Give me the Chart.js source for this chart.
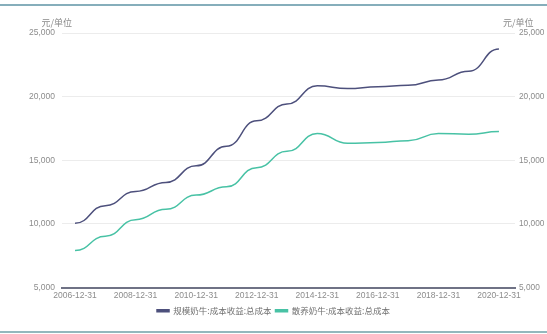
<!DOCTYPE html>
<html>
<head>
<meta charset="utf-8">
<script src="https://cdn.jsdelivr.net/npm/chart.js@4/dist/chart.umd.min.js"></script>
<style>
  html, body { margin: 0; padding: 0; background: #fff; }
  #wrap { position: relative; width: 547px; height: 334px; overflow: hidden; }
  #topRule { position: absolute; left: 0; top: 4px; width: 547px; height: 2px; background: #86aebb; }
  #bottomRule { position: absolute; left: 0; top: 331px; width: 547px; height: 2px; background: #93b8bd; }
  canvas { position: absolute; left: 0; top: 0; }
</style>
</head>
<body>
<div id="wrap">
  <div id="topRule"></div>
  <canvas id="c" width="547" height="334"></canvas>
  <div id="bottomRule"></div>
</div>
<script>
// Year-end dates (12-31) of each observation
const years = [2006, 2007, 2008, 2009, 2010, 2011, 2012, 2013, 2014, 2015, 2016, 2017, 2018, 2019, 2020];
// 规模奶牛:成本收益:总成本 (元/单位)
const scaleDairy = [10050, 11430, 12550, 13260, 14560, 16100, 18100, 19420, 20860, 20630, 20780, 20890, 21300, 21990, 23750];
// 散养奶牛:成本收益:总成本 (元/单位)
const freeDairy = [7900, 9020, 10330, 11150, 12260, 12910, 14420, 15700, 17100, 16330, 16400, 16540, 17100, 17050, 17250];
// X-axis tick years and Y-axis tick values
const tickYears = [2006, 2008, 2010, 2012, 2014, 2016, 2018, 2020];
const yTicks = [5000, 10000, 15000, 20000, 25000];
const seriesNames = ['规模奶牛:成本收益:总成本', '散养奶牛:成本收益:总成本'];
const unitLabel = '元/单位';

const colors = ['#4d507c', '#48c2a5'];
const CJK = '"Noto Sans CJK SC", sans-serif';
const NUM = '"Liberation Sans", Arial, sans-serif';

const toPoints = arr => arr.map((v, i) => ({ x: years[i], y: v }));

// Smooth "bump" curve: horizontal tangents at each observation
const bumpCurve = {
  id: 'bumpCurve',
  beforeDatasetDraw(chart, args) {
    const meta = args.meta;
    const line = meta.dataset;
    if (!line) return;
    line.updateControlPoints(chart.chartArea, 'x');
    const pts = meta.data;
    for (let i = 0; i < pts.length; i++) {
      const p = pts[i];
      const prev = pts[i - 1] || p;
      const next = pts[i + 1] || p;
      p.cp1x = p.x - (p.x - prev.x) / 2;
      p.cp1y = p.y;
      p.cp2x = p.x + (next.x - p.x) / 2;
      p.cp2y = p.y;
    }
  }
};

// Unit captions above both value axes
const unitCaptions = {
  id: 'unitCaptions',
  afterDraw(chart) {
    const ctx = chart.ctx;
    const area = chart.chartArea;
    ctx.save();
    ctx.font = '9px ' + CJK;
    ctx.fillStyle = '#8a8a8a';
    ctx.textBaseline = 'middle';
    ctx.textAlign = 'right';
    ctx.fillText(unitLabel, area.left + 10, area.top - 10);
    ctx.textAlign = 'left';
    ctx.fillText(unitLabel, area.right - 12, area.top - 10);
    ctx.restore();
  }
};

const tickFont = { size: 8.5, family: NUM };

const yScaleBase = {
  min: 5000,
  max: 25000,
  afterBuildTicks: s => { s.ticks = yTicks.map(v => ({ value: v })); },
  border: { display: false }
};

new Chart(document.getElementById('c'), {
  type: 'line',
  data: {
    datasets: [
      { label: seriesNames[0], data: toPoints(scaleDairy), borderColor: colors[0], backgroundColor: colors[0],
        borderWidth: 1.5, pointRadius: 0, tension: 0.4, yAxisID: 'y' },
      { label: seriesNames[1], data: toPoints(freeDairy), borderColor: colors[1], backgroundColor: colors[1],
        borderWidth: 1.5, pointRadius: 0, tension: 0.4, yAxisID: 'y' }
    ]
  },
  options: {
    responsive: false,
    animation: false,
    layout: { padding: { top: 33, left: 0, right: 0, bottom: 9 } },
    plugins: {
      legend: {
        position: 'bottom',
        labels: {
          boxWidth: 12, boxHeight: 2, padding: 4,
          color: '#707070', font: { size: 8.5, family: CJK }
        }
      },
      tooltip: { enabled: false }
    },
    scales: {
      x: {
        type: 'linear',
        min: 2005.57,
        max: 2020.53,
        afterBuildTicks: s => { s.ticks = tickYears.map(v => ({ value: v })); },
        ticks: { color: '#8c8c8c', font: tickFont, padding: 3, maxRotation: 0,
                 callback: v => v + '-12-31' },
        grid: { display: false, drawTicks: false, tickLength: 0 },
        border: { color: '#6f7285', width: 2 },
        afterFit: s => { s.height = 15; }
      },
      y: Object.assign({}, yScaleBase, {
        position: 'left',
        grid: { color: '#ececec', lineWidth: 1, drawTicks: false },
        ticks: { color: '#8c8c8c', font: tickFont, padding: 7 },
        afterFit: s => { s.width = 62; }
      }),
      y2: Object.assign({}, yScaleBase, {
        position: 'right',
        grid: { display: false, drawTicks: false, tickLength: 0 },
        ticks: { color: '#8c8c8c', font: { size: 8.3, family: NUM }, padding: 4 },
        afterFit: s => { s.width = 32; }
      })
    }
  },
  plugins: [bumpCurve, unitCaptions]
});
</script>
</body>
</html>
